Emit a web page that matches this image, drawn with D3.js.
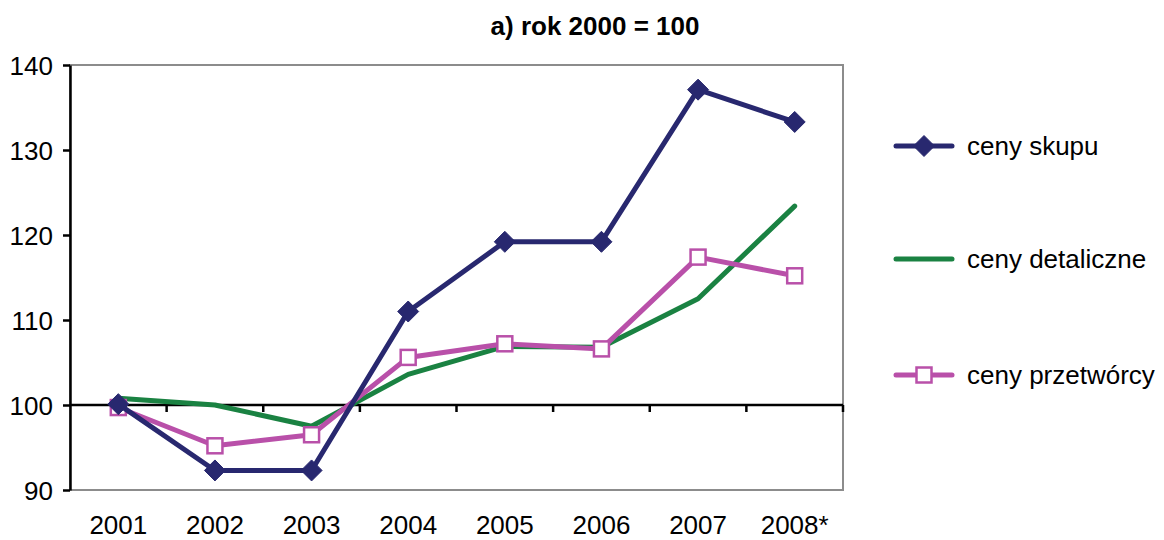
<!DOCTYPE html>
<html>
<head>
<meta charset="utf-8">
<script src="https://cdn.jsdelivr.net/npm/d3@7"></script>
<style>
  body { margin: 0; background: #fff; overflow: hidden; }
  text { font-family: Arial, "Liberation Sans", sans-serif; fill: #000; }
</style>
</head>
<body>
<div id="chart"></div>
<script>
// data
var years = ['2001', '2002', '2003', '2004', '2005', '2006', '2007', '2008*'];
var cenySkupu = [100.1, 92.3, 92.3, 111.0, 119.2, 119.2, 137.1, 133.3];
var cenyDetaliczne = [100.8, 100.0, 97.5, 103.6, 106.9, 106.8, 112.5, 123.4];
var cenyPrzetworcy = [99.7, 95.2, 96.5, 105.6, 107.2, 106.6, 117.4, 115.2];
var yTicks = [90, 100, 110, 120, 130, 140];
var seriesNames = ['ceny skupu', 'ceny detaliczne', 'ceny przetwórcy'];

var series = [
  {name: seriesNames[0], values: cenySkupu, color: '#28286f', marker: 'diamond'},
  {name: seriesNames[1], values: cenyDetaliczne, color: '#1a8242', marker: 'none'},
  {name: seriesNames[2], values: cenyPrzetworcy, color: '#b950a9', marker: 'square'}
];

var w = 1164, h = 540;
var margin = {top: 65, right: 321, bottom: 50, left: 70};
var innerW = w - margin.left - margin.right,
    innerH = h - margin.top - margin.bottom;
var fs = '26px';

var svg = d3.select('#chart').append('svg')
  .attr('width', w)
  .attr('height', h)
  .style('display', 'block');

svg.append('text')
  .attr('x', 595)
  .attr('y', 35)
  .attr('text-anchor', 'middle')
  .style('font-size', fs)
  .style('font-weight', 'bold')
  .text('a) rok 2000 = 100');

var g = svg.append('g')
  .attr('transform', 'translate(' + [margin.left, margin.top] + ')');

// scales
var x = d3.scaleBand().domain(years).range([0, innerW]);
var y = d3.scaleLinear().domain([90, 140]).range([innerH, 0]);

// plot frame (grey)
g.append('rect')
  .attr('x', 0).attr('y', 0)
  .attr('width', innerW).attr('height', innerH)
  .attr('fill', 'none')
  .attr('stroke', '#8c8c8c')
  .attr('stroke-width', 2);

// y axis
var yAxis = d3.axisLeft(y).tickValues(yTicks).tickSize(7).tickPadding(10).tickSizeOuter(0);
var yG = g.append('g').attr('class', 'y axis').call(yAxis);
yG.select('.domain').attr('stroke', '#000').attr('stroke-width', 2.5);
yG.selectAll('.tick line').attr('stroke', '#000').attr('stroke-width', 2.5);
yG.selectAll('.tick text').style('font-size', fs).attr('dy', '0.35em')
  .style('font-family', 'Arial, "Liberation Sans", sans-serif');

// x axis at 100, ticks on band boundaries
g.append('line')
  .attr('x1', 0).attr('x2', innerW)
  .attr('y1', y(100)).attr('y2', y(100))
  .attr('stroke', '#000').attr('stroke-width', 2.5);
g.selectAll('line.xtick')
  .data(years.slice(1).concat(['end']))
  .enter().append('line')
  .attr('class', 'xtick')
  .attr('x1', function(d, i) { return (i + 1) * x.step(); })
  .attr('x2', function(d, i) { return (i + 1) * x.step(); })
  .attr('y1', y(100)).attr('y2', y(100) + 7)
  .attr('stroke', '#000').attr('stroke-width', 2.5);

// x labels
g.selectAll('text.xlab')
  .data(years)
  .enter().append('text')
  .attr('class', 'xlab')
  .attr('x', function(d) { return x(d) + x.bandwidth() / 2; })
  .attr('y', innerH + 44)
  .attr('text-anchor', 'middle')
  .style('font-size', fs)
  .text(function(d) { return d; });

// lines
var line = d3.line()
  .x(function(d, i) { return x(years[i]) + x.bandwidth() / 2; })
  .y(function(d) { return y(d); });

var order = [1, 2, 0];
order.forEach(function(k) {
  var s = series[k];
  g.append('path')
    .datum(s.values)
    .attr('fill', 'none')
    .attr('stroke', s.color)
    .attr('stroke-width', 5)
    .attr('stroke-linejoin', 'round')
    .attr('stroke-linecap', 'round')
    .attr('d', line);
  drawMarkers(g, s, s.values.map(function(v, i) {
    return [x(years[i]) + x.bandwidth() / 2, y(v)];
  }));
});

function drawMarkers(sel, s, pts) {
  if (s.marker === 'diamond') {
    sel.selectAll(null).data(pts).enter().append('path')
      .attr('d', 'M0,-10.5L10.5,0L0,10.5L-10.5,0Z')
      .attr('transform', function(p) { return 'translate(' + p + ')'; })
      .attr('fill', s.color)
      .attr('stroke', s.color)
      .attr('stroke-width', 1);
  } else if (s.marker === 'square') {
    sel.selectAll(null).data(pts).enter().append('rect')
      .attr('x', function(p) { return p[0] - 7.5; })
      .attr('y', function(p) { return p[1] - 7.5; })
      .attr('width', 15).attr('height', 15)
      .attr('fill', '#fff')
      .attr('stroke', s.color)
      .attr('stroke-width', 2.5);
  }
}

// legend
var legendY = [146, 259, 375];
var lg = svg.append('g');
series.forEach(function(s, i) {
  lg.append('line')
    .attr('x1', 896).attr('x2', 952)
    .attr('y1', legendY[i]).attr('y2', legendY[i])
    .attr('stroke', s.color)
    .attr('stroke-width', 5)
    .attr('stroke-linecap', 'round');
  drawMarkers(lg, s, [[924, legendY[i]]]);
  lg.append('text')
    .attr('x', 967)
    .attr('y', legendY[i])
    .attr('dy', '0.35em')
    .style('font-size', fs)
    .text(s.name);
});
</script>
</body>
</html>
